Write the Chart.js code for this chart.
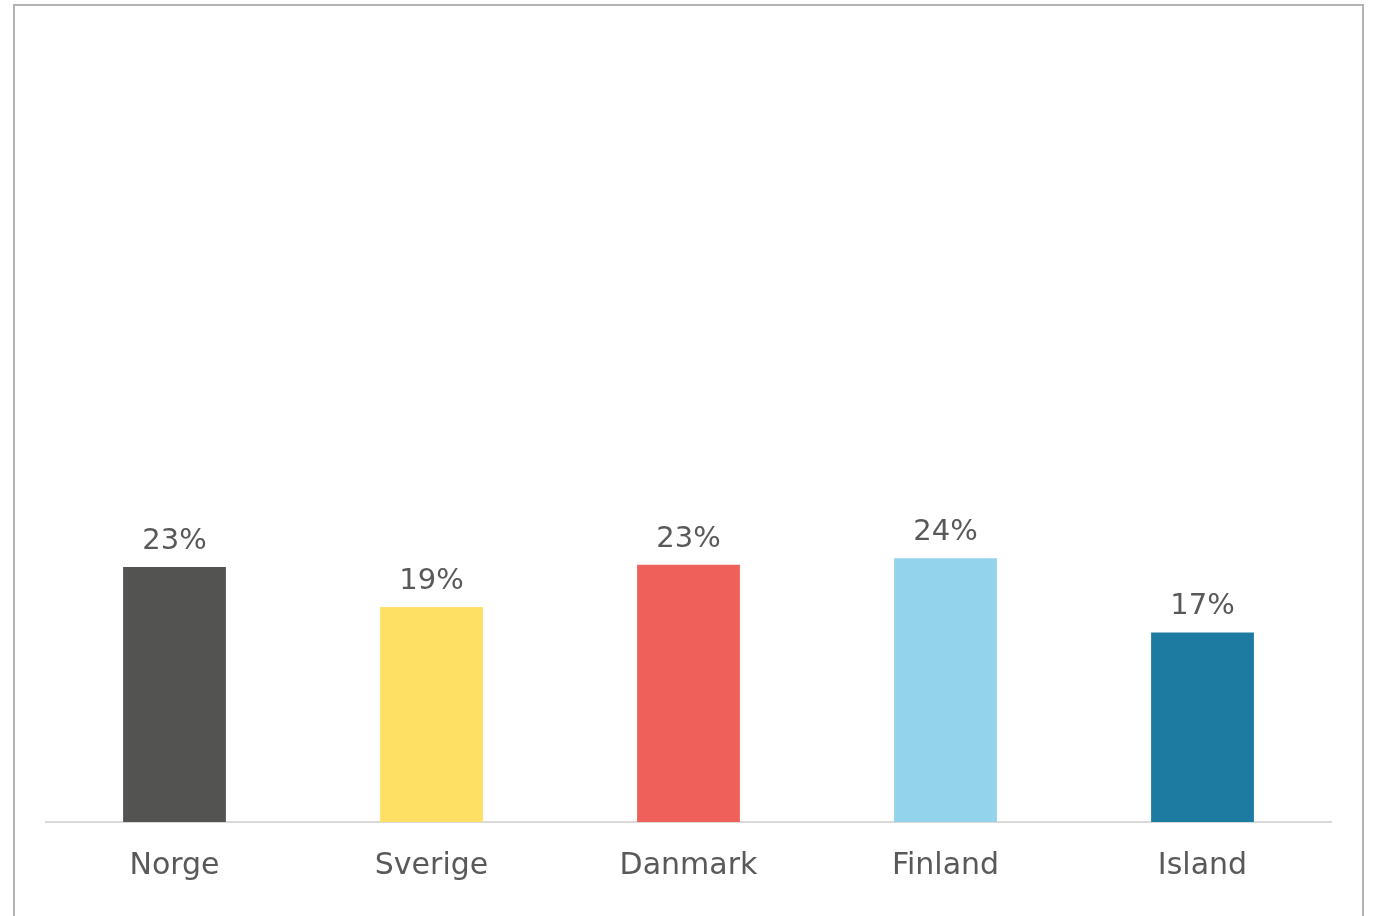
<!DOCTYPE html>
<html>
<head>
<meta charset="utf-8">
<script src="https://cdn.jsdelivr.net/npm/chart.js@4/dist/chart.umd.min.js"></script>
<style>
  html, body { margin: 0; padding: 0; background: #ffffff; }
  #wrap { position: relative; width: 1376px; height: 916px; }
</style>
</head>
<body>
<div id="wrap"><canvas id="c"></canvas></div>
<script>
const categories = ["Norge", "Sverige", "Danmark", "Finland", "Island"];
const values = [23.0, 19.4, 23.2, 23.8, 17.1];
const barColors = ["#535451", "#FDE064", "#F0605A", "#93D3EB", "#1D7BA1"];

const FONT = "'DejaVu Sans', sans-serif";
const TEXT = "#595959";

const frame = {
  id: 'frame',
  beforeDraw(chart) {
    const ctx = chart.ctx;
    ctx.save();
    ctx.fillStyle = '#ffffff';
    ctx.fillRect(0, 0, chart.width, chart.height);
    ctx.strokeStyle = '#b3b3b3';
    ctx.lineWidth = 2;
    ctx.strokeRect(14, 5, 1349, 1000);
    ctx.restore();
  }
};

const valueLabels = {
  id: 'valueLabels',
  afterDatasetsDraw(chart) {
    const ctx = chart.ctx;
    const meta = chart.getDatasetMeta(0);
    ctx.save();
    ctx.font = "29px " + FONT;
    ctx.fillStyle = TEXT;
    ctx.textAlign = 'center';
    ctx.textBaseline = 'alphabetic';
    meta.data.forEach((bar, i) => {
      ctx.fillText(Math.round(values[i]) + '%', bar.x, bar.y - 18);
    });
    ctx.restore();
  }
};

new Chart(document.getElementById('c'), {
  type: 'bar',
  data: {
    labels: categories,
    datasets: [{
      data: values,
      backgroundColor: barColors,
      borderWidth: 0,
      barPercentage: 0.4,
      categoryPercentage: 1.0
    }]
  },
  options: {
    responsive: true,
    maintainAspectRatio: false,
    animation: false,
    layout: { padding: { left: 46, right: 45, top: 46, bottom: 0 } },
    plugins: { legend: { display: false }, tooltip: { enabled: false } },
    scales: {
      y: { display: false, min: 0, max: 70 },
      x: {
        grid: { display: false, drawTicks: false },
        border: { display: true, color: '#d9d9d9', width: 2 },
        ticks: { color: TEXT, font: { family: FONT, size: 30 }, padding: 26 },
        afterFit(scale) { scale.height = 94; }
      }
    }
  },
  plugins: [frame, valueLabels]
});
</script>
</body>
</html>
